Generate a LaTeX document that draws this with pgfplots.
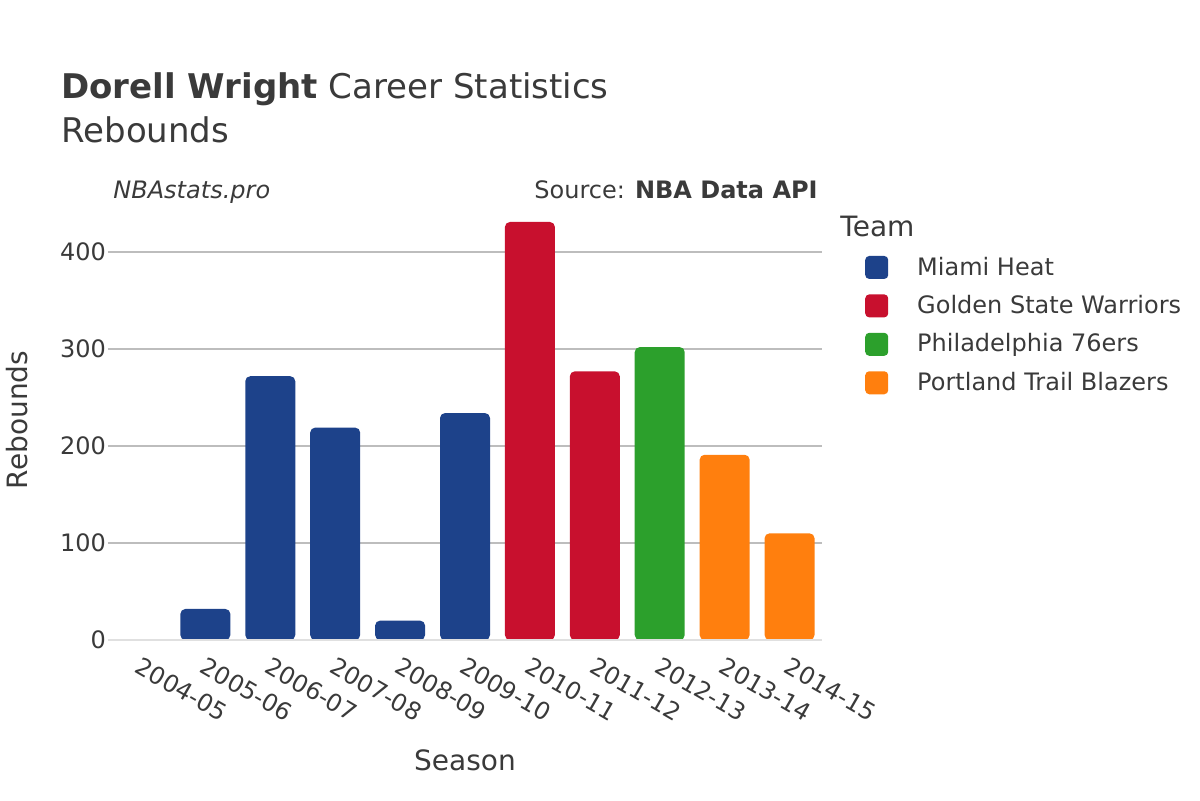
\documentclass[border=0pt]{standalone}
\usepackage{pgfplots}
\pgfplotsset{compat=1.18}
\usepackage{fontspec}
\setmainfont{DejaVu Sans}
\definecolor{mia}{HTML}{1D428A}
\definecolor{gsw}{HTML}{C8102E}
\definecolor{phi}{HTML}{2CA02C}
\definecolor{por}{HTML}{FF7F0E}
\definecolor{txt}{HTML}{3A3A3A}
\definecolor{grd}{HTML}{BDBDBD}
\begin{document}
\begin{tikzpicture}[x=1pt,y=1pt]
\path[use as bounding box] (0,0) rectangle (600,400);
\begin{axis}[
  at={(54pt,80pt)}, anchor=south west,
  scale only axis, width=357pt, height=215.8pt,
  xmin=-0.5, xmax=10.5, ymin=0, ymax=445,
  ybar, bar width=25pt, bar shift=0pt,
  xtick={0,1,2,3,4,5,6,7,8,9,10},
  xticklabels={2004-05,2005-06,2006-07,2007-08,2008-09,2009-10,2010-11,2011-12,2012-13,2013-14,2014-15},
  ytick={0,100,200,300,400},
  ymajorgrids, major grid style={color=grd, line width=0.6pt},
  axis line style={draw=none}, major tick length=0pt,
  tick label style={font=\fontsize{12}{14}\selectfont, color=txt},
  /pgf/number format/assume math mode=true,
  xticklabel style={rotate=-30, anchor=north west, xshift=1.5pt, yshift=-3pt},
  yticklabel style={xshift=2.5pt},
  legend style={at={(1.06,0.898)}, anchor=north west, draw=none, fill=none,
    font=\fontsize{12}{14}\selectfont, text=txt, row sep=4.6pt, inner sep=0pt},
  legend cell align=left,
  legend image code/.code={\fill[#1, draw=none, rounded corners=2pt] (0pt,-5.75pt) rectangle (11.5pt,5.75pt);},
  clip=false,
]
\addplot[fill=mia, draw=none, forget plot] coordinates {(0,1)};
\addplot[fill=mia, draw=none, rounded corners=2.5pt] coordinates {(1,32) (2,272) (3,219) (4,20) (5,234)};
\addlegendentry{\hspace{12.5pt}Miami Heat}
\addplot[fill=gsw, draw=none, rounded corners=2.5pt] coordinates {(6,431) (7,277)};
\addlegendentry{\hspace{12.5pt}Golden State Warriors}
\addplot[fill=phi, draw=none, rounded corners=2.5pt] coordinates {(8,302)};
\addlegendentry{\hspace{12.5pt}Philadelphia 76ers}
\addplot[fill=por, draw=none, rounded corners=2.5pt] coordinates {(9,191) (10,110)};
\addlegendentry{\hspace{12.5pt}Portland Trail Blazers}
\draw[color=black!12, line width=1pt] (axis cs:-0.5,0) -- (axis cs:10.5,0);
\end{axis}
\node[anchor=base west, inner sep=0, text=txt, font=\fontsize{17}{20}\selectfont] at (30.5,350.5) {\textbf{Dorell Wright} Career Statistics};
\node[anchor=base west, inner sep=0, text=txt, font=\fontsize{17}{20}\selectfont] at (30.5,328.5) {Rebounds};
\node[anchor=base west, inner sep=0, text=txt, font=\fontsize{12}{14}\selectfont\itshape] at (56.5,301) {NBAstats.pro};
\node[anchor=base east, inner sep=0, text=txt, font=\fontsize{12}{14}\selectfont] at (409,301) {Source: \textbf{NBA Data API}};
\node[rotate=90, inner sep=0, text=txt, font=\fontsize{14}{16}\selectfont] at (8.5,190) {Rebounds};
\node[inner sep=0, text=txt, font=\fontsize{14}{16}\selectfont] at (232.5,20) {Season};
\node[anchor=base west, inner sep=0, text=txt, font=\fontsize{14}{16}\selectfont] at (420,282) {Team};
\end{tikzpicture}
\end{document}
